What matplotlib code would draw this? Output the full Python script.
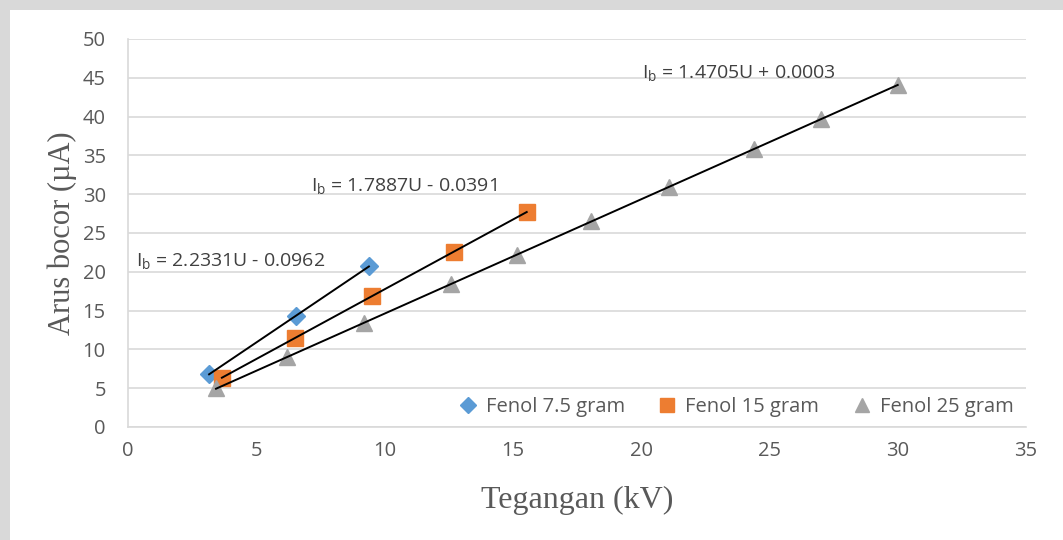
import numpy as np
import matplotlib.pyplot as plt
from matplotlib.patches import Rectangle

# Data
u_75 = [3.16, 6.54, 9.39]
i_75 = [6.8, 14.3, 20.7]

u_15 = [3.66, 6.5, 9.5, 12.7, 15.54]
i_15 = [6.3, 11.5, 16.9, 22.55, 27.7]

u_25 = [3.43, 6.2, 9.2, 12.6, 15.15, 18.04, 21.1, 24.4, 27.0, 30.0]
i_25 = [5.0, 9.0, 13.4, 18.4, 22.2, 26.5, 30.9, 35.8, 39.7, 44.1]

labels = ['Fenol 7.5 gram', 'Fenol 15 gram', 'Fenol 25 gram']
equations = ['I$_\\mathrm{b}$ = 2.2331U - 0.0962',
             'I$_\\mathrm{b}$ = 1.7887U - 0.0391',
             'I$_\\mathrm{b}$ = 1.4705U + 0.0003']

plt.rcParams['font.family'] = ['Open Sans', 'DejaVu Sans']
plt.rcParams['mathtext.fontset'] = 'custom'
plt.rcParams['mathtext.rm'] = 'Open Sans'

fig = plt.figure(figsize=(10.63, 5.4), dpi=100)
fig.patch.set_facecolor('#d9d9d9')
fig.patches.append(Rectangle((10 / 1063, 0), 1, 1 - 10 / 540,
                             transform=fig.transFigure, facecolor='white',
                             edgecolor='none', zorder=-10))

ax = fig.add_axes([128 / 1063, 1 - 427 / 540, 898 / 1063, 388 / 540])
ax.set_zorder(1)
ax.set_facecolor('white')

series = [
    (u_75, i_75, 'D', '#5B9BD5', 9),
    (u_15, i_15, 's', '#ED7D31', 11),
    (u_25, i_25, '^', '#A5A5A5', 11),
]
for (u, i, m, c, ms), lab in zip(series, labels):
    ax.plot(u, i, linestyle='none', marker=m, color=c, markersize=ms,
            label=lab, zorder=3)
    k, b = np.polyfit(u, i, 1)
    xs = np.array([u[0], u[-1]])
    ax.plot(xs, k * xs + b, color='black', lw=1.4, zorder=4)

txt = dict(fontsize=14, color='#404040')
ax.text(0.3, 21.3, equations[0], va='center', ha='left', **txt)
ax.text(7.15, 30.9, equations[1], va='center', ha='left', **txt)
ax.text(20.05, 45.5, equations[2], va='center', ha='left', **txt)

ax.set_xlim(0, 35)
ax.set_ylim(0, 50)
ax.set_xticks(np.arange(0, 36, 5))
ax.set_yticks(np.arange(0, 51, 5))
ax.grid(axis='y', color='#d9d9d9', lw=1.2)
ax.set_axisbelow(True)
ax.tick_params(length=0, labelsize=14.5, colors='#595959')
ax.tick_params(axis='y', pad=16)
ax.tick_params(axis='x', pad=10)
for s in ['top', 'right']:
    ax.spines[s].set_visible(False)
ax.spines['left'].set_color('#d9d9d9')
ax.spines['bottom'].set_color('#d9d9d9')
ax.spines['left'].set_linewidth(1.2)
ax.spines['bottom'].set_linewidth(1.2)

ax.set_xlabel('Tegangan (kV)', family='Liberation Serif', fontsize=23,
              color='#595959', labelpad=18)
ax.set_ylabel('Arus bocor (µA)', family='Liberation Serif', fontsize=22,
              color='#595959', labelpad=4)

leg = ax.legend(loc='lower right', bbox_to_anchor=(0.995, 0.005), ncol=3,
                frameon=False, fontsize=14.5, handletextpad=0.1,
                columnspacing=1.3, markerscale=0.9, borderaxespad=0,
                handlelength=1.6)
for t in leg.get_texts():
    t.set_color('#595959')

fig.savefig('out.png', dpi=100, facecolor=fig.get_facecolor())
